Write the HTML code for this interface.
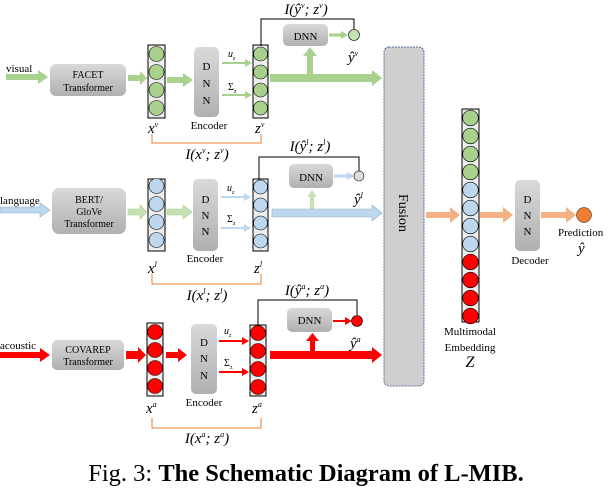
<!DOCTYPE html>
<html><head><meta charset="utf-8"><style>
html,body{margin:0;padding:0;background:#fff;}
svg{display:block;font-family:"Liberation Serif",serif;}
</style></head><body>
<svg width="612" height="490" viewBox="0 0 612 490" xmlns="http://www.w3.org/2000/svg">
<defs>
<linearGradient id="g" x1="0" y1="0" x2="0" y2="1"><stop offset="0" stop-color="#d9d9d9"/><stop offset="1" stop-color="#b0b0b0"/></linearGradient>
</defs>
<!-- ===== VISUAL ROW ===== -->
<text x="6" y="72" font-size="11">visual</text>
<polygon points="6,74 38,74 38,70 48,77 38,84 38,80 6,80" fill="#a9d18e"/>
<rect x="50" y="64" width="76" height="32" rx="6" fill="url(#g)"/>
<text x="88" y="78" font-size="10" text-anchor="middle">FACET</text>
<text x="88" y="91" font-size="10" text-anchor="middle">Transformer</text>
<polygon points="128,75 140,75 140,71 147,78 140,85 140,81 128,81" fill="#a9d18e"/>
<rect x="148" y="45" width="17" height="73" fill="#eee" stroke="#000"/>
<g fill="#a9d18e" stroke="#000" stroke-width="0.6"><circle cx="156.5" cy="54" r="7.5"/><circle cx="156.5" cy="72" r="7.5"/><circle cx="156.5" cy="90" r="7.5"/><circle cx="156.5" cy="108" r="7.5"/></g>
<polygon points="167,77 183,77 183,73 193,80 183,87 183,83 167,83" fill="#a9d18e"/>
<rect x="194" y="47" width="25" height="70" rx="5" fill="url(#g)"/>
<text x="206.5" y="70" font-size="11" text-anchor="middle">D</text>
<text x="206.5" y="87" font-size="11" text-anchor="middle">N</text>
<text x="206.5" y="104" font-size="11" text-anchor="middle">N</text>
<text x="209" y="129" font-size="11" text-anchor="middle">Encoder</text>
<line x1="222" y1="63" x2="246" y2="63" stroke="#a9d18e" stroke-width="2"/><polygon points="245,59 252,63 245,67" fill="#a9d18e"/>
<line x1="222" y1="95" x2="246" y2="95" stroke="#a9d18e" stroke-width="2"/><polygon points="245,91 252,95 245,99" fill="#a9d18e"/>
<text x="228" y="57" font-size="10" font-style="italic">u<tspan font-size="6" dy="3">z</tspan></text>
<text x="228" y="90" font-size="10">Σ<tspan font-size="6" dy="3">z</tspan></text>
<rect x="253" y="45" width="15" height="73" fill="#eee" stroke="#000"/>
<g fill="#a9d18e" stroke="#000" stroke-width="0.6"><circle cx="260.5" cy="54" r="7"/><circle cx="260.5" cy="72" r="7"/><circle cx="260.5" cy="90" r="7"/><circle cx="260.5" cy="108" r="7"/></g>
<polyline points="261,46 261,19 354,19 354,31" fill="none" stroke="#000" stroke-width="1"/>
<text x="306" y="14" font-size="15" text-anchor="middle" font-style="italic">I(ŷ<tspan font-size="8" dy="-6">v</tspan><tspan dy="6">; z</tspan><tspan font-size="8" dy="-6">v</tspan><tspan dy="6">)</tspan></text>
<rect x="283" y="24" width="45" height="22" rx="5" fill="url(#g)"/>
<text x="305.5" y="40" font-size="11" text-anchor="middle">DNN</text>
<line x1="329" y1="35" x2="342" y2="35" stroke="#a9d18e" stroke-width="3"/><polygon points="341,31 348,35 341,39" fill="#a9d18e"/>
<circle cx="354" cy="35" r="5.5" fill="#c5e0b4" stroke="#000" stroke-width="0.6"/>
<text x="348" y="62" font-size="15" font-style="italic">ŷ<tspan font-size="8" dy="-6">v</tspan></text>
<rect x="307" y="54" width="6" height="24" fill="#a9d18e"/><polygon points="303,56 310,47 317,56" fill="#a9d18e"/>
<polygon points="270,74 372,74 372,70 382,78 372,86 372,82 270,82" fill="#a9d18e"/>
<text x="148" y="133" font-size="15" font-style="italic">x<tspan font-size="8" dy="-6">v</tspan></text>
<text x="255" y="133" font-size="15" font-style="italic">z<tspan font-size="8" dy="-6">v</tspan></text>
<polyline points="152,134 152,143 261,143 261,134" fill="none" stroke="#ed7d31" stroke-width="1"/>
<text x="207" y="159" font-size="15" text-anchor="middle" font-style="italic">I(x<tspan font-size="8" dy="-6">v</tspan><tspan dy="6">; z</tspan><tspan font-size="8" dy="-6">v</tspan><tspan dy="6">)</tspan></text>

<!-- ===== LANGUAGE ROW ===== -->
<text x="0" y="204" font-size="11">language</text>
<polygon points="0,207 40,207 40,203 50,210 40,217 40,213 0,213" fill="#bdd7ee" stroke="#8fb0d0" stroke-width="0.6"/>
<rect x="52" y="188" width="74" height="46" rx="7" fill="url(#g)"/>
<text x="89" y="203" font-size="10" text-anchor="middle">BERT/</text>
<text x="89" y="215" font-size="10" text-anchor="middle">GloVe</text>
<text x="89" y="227" font-size="10" text-anchor="middle">Transformer</text>
<polygon points="128,209 140,209 140,205 147,212 140,219 140,215 128,215" fill="#c5e0b4" stroke="#a9d18e" stroke-width="0.6"/>
<rect x="148" y="179" width="17" height="72" fill="#eee" stroke="#000"/>
<g fill="#bdd7ee" stroke="#000" stroke-width="0.6"><circle cx="156.5" cy="186" r="7.5"/><circle cx="156.5" cy="204" r="7.5"/><circle cx="156.5" cy="222" r="7.5"/><circle cx="156.5" cy="240" r="7.5"/></g>
<polygon points="167,209 183,209 183,205 192,212 183,219 183,215 167,215" fill="#c5e0b4" stroke="#a9d18e" stroke-width="0.6"/>
<rect x="193" y="179" width="25" height="72" rx="5" fill="url(#g)"/>
<text x="205.5" y="203" font-size="11" text-anchor="middle">D</text>
<text x="205.5" y="219" font-size="11" text-anchor="middle">N</text>
<text x="205.5" y="235" font-size="11" text-anchor="middle">N</text>
<text x="205" y="262" font-size="11" text-anchor="middle">Encoder</text>
<line x1="221" y1="197" x2="245" y2="197" stroke="#bdd7ee" stroke-width="2"/><polygon points="244,193 251,197 244,201" fill="#bdd7ee"/>
<line x1="221" y1="228" x2="245" y2="228" stroke="#bdd7ee" stroke-width="2"/><polygon points="244,224 251,228 244,232" fill="#bdd7ee"/>
<text x="227" y="191" font-size="10" font-style="italic">u<tspan font-size="6" dy="3">z</tspan></text>
<text x="227" y="222" font-size="10">Σ<tspan font-size="6" dy="3">z</tspan></text>
<rect x="253" y="179" width="15" height="72" fill="#eee" stroke="#000"/>
<g fill="#bdd7ee" stroke="#000" stroke-width="0.6"><circle cx="260.5" cy="187" r="7"/><circle cx="260.5" cy="205" r="7"/><circle cx="260.5" cy="223" r="7"/><circle cx="260.5" cy="241" r="7"/></g>
<polyline points="259,180 259,157 359,157 359,173" fill="none" stroke="#000" stroke-width="1"/>
<text x="310" y="151" font-size="15" text-anchor="middle" font-style="italic">I(ŷ<tspan font-size="8" dy="-6">l</tspan><tspan dy="6">; z</tspan><tspan font-size="8" dy="-6">l</tspan><tspan dy="6">)</tspan></text>
<rect x="289" y="164" width="44" height="24" rx="5" fill="url(#g)"/>
<text x="311" y="181" font-size="11" text-anchor="middle">DNN</text>
<line x1="334" y1="176" x2="348" y2="176" stroke="#bdd7ee" stroke-width="3"/><polygon points="347,172 354,176 347,180" fill="#bdd7ee"/>
<circle cx="359" cy="176" r="5" fill="#ddd" stroke="#000" stroke-width="0.6"/>
<text x="354" y="204" font-size="15" font-style="italic">ŷ<tspan font-size="8" dy="-6">l</tspan></text>
<rect x="310" y="196" width="4" height="14" fill="#c5e0b4"/><polygon points="307,197 312,190 317,197" fill="#c5e0b4"/>
<polygon points="272,209 372,209 372,205 382,213 372,221 372,217 272,217" fill="#bdd7ee" stroke="#8fb0d0" stroke-width="0.6"/>
<text x="148" y="273" font-size="15" font-style="italic">x<tspan font-size="8" dy="-6">l</tspan></text>
<text x="254" y="273" font-size="15" font-style="italic">z<tspan font-size="8" dy="-6">l</tspan></text>
<polyline points="152,274 152,284 261,284 261,274" fill="none" stroke="#ed7d31" stroke-width="1"/>
<text x="207" y="300" font-size="15" text-anchor="middle" font-style="italic">I(x<tspan font-size="8" dy="-6">l</tspan><tspan dy="6">; z</tspan><tspan font-size="8" dy="-6">l</tspan><tspan dy="6">)</tspan></text>

<!-- ===== ACOUSTIC ROW ===== -->
<text x="0" y="349" font-size="11">acoustic</text>
<polygon points="0,352 40,352 40,348 50,355 40,362 40,358 0,358" fill="#ff0000"/>
<rect x="52" y="340" width="72" height="30" rx="5" fill="url(#g)"/>
<text x="88" y="353" font-size="10" text-anchor="middle">COVAREP</text>
<text x="88" y="365" font-size="10" text-anchor="middle">Transformer</text>
<polygon points="126,351 138,351 138,347 146,355 138,363 138,359 126,359" fill="#ff0000"/>
<rect x="147" y="323" width="16" height="73" fill="#eee" stroke="#000"/>
<g fill="#ff0000" stroke="#000" stroke-width="0.6"><circle cx="155" cy="332" r="7.5"/><circle cx="155" cy="350" r="7.5"/><circle cx="155" cy="368" r="7.5"/><circle cx="155" cy="386" r="7.5"/></g>
<polygon points="166,352 178,352 178,348 187,355 178,362 178,358 166,358" fill="#ff0000"/>
<rect x="191" y="324" width="26" height="70" rx="5" fill="url(#g)"/>
<text x="204" y="346" font-size="11" text-anchor="middle">D</text>
<text x="204" y="362" font-size="11" text-anchor="middle">N</text>
<text x="204" y="379" font-size="11" text-anchor="middle">N</text>
<text x="204" y="406" font-size="11" text-anchor="middle">Encoder</text>
<line x1="219" y1="341" x2="243" y2="341" stroke="#ff0000" stroke-width="2"/><polygon points="242,337 249,341 242,345" fill="#ff0000"/>
<line x1="219" y1="372" x2="243" y2="372" stroke="#ff0000" stroke-width="2"/><polygon points="242,368 249,372 242,376" fill="#ff0000"/>
<text x="224" y="334" font-size="10" font-style="italic">u<tspan font-size="6" dy="3">z</tspan></text>
<text x="224" y="366" font-size="10">Σ<tspan font-size="6" dy="3">z</tspan></text>
<rect x="250" y="325" width="16" height="71" fill="#eee" stroke="#000"/>
<g fill="#ff0000" stroke="#000" stroke-width="0.6"><circle cx="258" cy="333" r="7.5"/><circle cx="258" cy="351" r="7.5"/><circle cx="258" cy="369" r="7.5"/><circle cx="258" cy="387" r="7.5"/></g>
<polyline points="258,325 258,300 357,300 357,315" fill="none" stroke="#000" stroke-width="1"/>
<text x="307" y="295" font-size="15" text-anchor="middle" font-style="italic">I(ŷ<tspan font-size="8" dy="-6">a</tspan><tspan dy="6">; z</tspan><tspan font-size="8" dy="-6">a</tspan><tspan dy="6">)</tspan></text>
<rect x="287" y="308" width="45" height="24" rx="5" fill="url(#g)"/>
<text x="309.5" y="324" font-size="11" text-anchor="middle">DNN</text>
<line x1="333" y1="321" x2="346" y2="321" stroke="#ff0000" stroke-width="2"/><polygon points="345,317 352,321 345,325" fill="#ff0000"/>
<circle cx="357" cy="321" r="5.5" fill="#ff0000" stroke="#000" stroke-width="0.6"/>
<text x="350" y="348" font-size="15" font-style="italic">ŷ<tspan font-size="8" dy="-6">a</tspan></text>
<rect x="310" y="340" width="5" height="14" fill="#ff0000"/><polygon points="306,341 312.5,333 319,341" fill="#ff0000"/>
<polygon points="270,351 372,351 372,347 382,355 372,363 372,359 270,359" fill="#ff0000"/>
<text x="146" y="413" font-size="15" font-style="italic">x<tspan font-size="8" dy="-6">a</tspan></text>
<text x="252" y="413" font-size="15" font-style="italic">z<tspan font-size="8" dy="-6">a</tspan></text>
<polyline points="152,418 152,428 261,428 261,418" fill="none" stroke="#ed7d31" stroke-width="1"/>
<text x="207" y="443" font-size="15" text-anchor="middle" font-style="italic">I(x<tspan font-size="8" dy="-6">a</tspan><tspan dy="6">; z</tspan><tspan font-size="8" dy="-6">a</tspan><tspan dy="6">)</tspan></text>

<!-- ===== FUSION ===== -->
<rect x="384" y="47" width="40" height="339" rx="5" fill="#d0cece" stroke="#2f4f8f" stroke-width="0.8" stroke-dasharray="2,1"/>
<text x="0" y="0" font-size="14" text-anchor="middle" transform="translate(399,213) rotate(90)">Fusion</text>
<polygon points="426,212 450,212 450,207 460,215 450,223 450,218 426,218" fill="#f4b183"/>
<rect x="462" y="109" width="17" height="213" fill="#eee" stroke="#000"/>
<g stroke="#000" stroke-width="0.6">
<circle cx="470.5" cy="118" r="7.8" fill="#a9d18e"/><circle cx="470.5" cy="136" r="7.8" fill="#a9d18e"/><circle cx="470.5" cy="154" r="7.8" fill="#a9d18e"/><circle cx="470.5" cy="172" r="7.8" fill="#a9d18e"/>
<circle cx="470.5" cy="190" r="7.8" fill="#bdd7ee"/><circle cx="470.5" cy="208" r="7.8" fill="#bdd7ee"/><circle cx="470.5" cy="226" r="7.8" fill="#bdd7ee"/><circle cx="470.5" cy="244" r="7.8" fill="#bdd7ee"/>
<circle cx="470.5" cy="262" r="7.8" fill="#ff0000"/><circle cx="470.5" cy="280" r="7.8" fill="#ff0000"/><circle cx="470.5" cy="298" r="7.8" fill="#ff0000"/><circle cx="470.5" cy="316" r="7.8" fill="#ff0000"/>
</g>
<text x="470" y="335" font-size="11" text-anchor="middle">Multimodal</text>
<text x="470" y="351" font-size="11" text-anchor="middle">Embedding</text>
<text x="470" y="367" font-size="16" text-anchor="middle" font-style="italic">Z</text>
<polygon points="480,212 503,212 503,207 513,215 503,223 503,218 480,218" fill="#f4b183"/>
<rect x="515" y="180" width="25" height="71" rx="5" fill="url(#g)"/>
<text x="527.5" y="203" font-size="11" text-anchor="middle">D</text>
<text x="527.5" y="219" font-size="11" text-anchor="middle">N</text>
<text x="527.5" y="235" font-size="11" text-anchor="middle">N</text>
<text x="530" y="264" font-size="11" text-anchor="middle">Decoder</text>
<polygon points="541,212 566,212 566,207 576,215 566,223 566,218 541,218" fill="#f4b183"/>
<circle cx="584" cy="215" r="7.5" fill="#ed7d31" stroke="#000" stroke-width="0.5"/>
<text x="558" y="236" font-size="11">Prediction</text>
<text x="578" y="253" font-size="15" font-style="italic">ŷ</text>

<!-- caption -->
<text x="306" y="481" font-size="24.5" text-anchor="middle">Fig. 3: <tspan font-weight="bold">The Schematic Diagram of L-MIB.</tspan></text>
</svg>
</body></html>
